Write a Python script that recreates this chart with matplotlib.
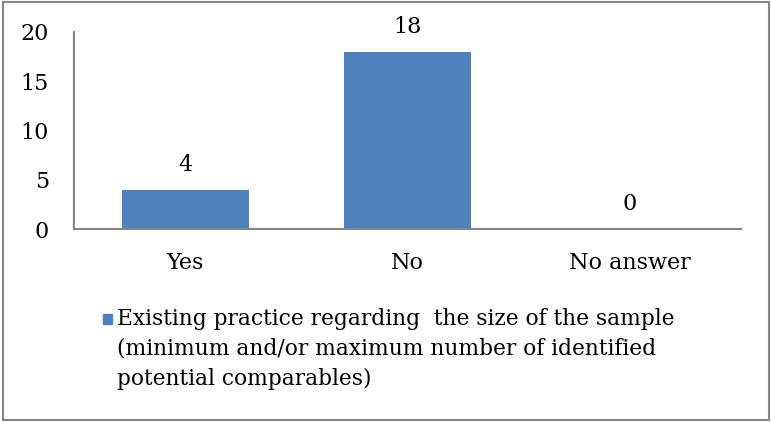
import matplotlib
matplotlib.use("Agg")
import matplotlib.pyplot as plt
from matplotlib.patches import Rectangle

categories = ["Yes", "No", "No answer"]
values = [4, 18, 0]
yticks = [0, 5, 10, 15, 20]
series_label = ("Existing practice regarding  the size of the sample\n"
                "(minimum and/or maximum number of identified\n"
                "potential comparables)")

BAR = "#4F81BD"
AXIS = "#868686"
FS = 16
plt.rcParams["font.family"] = ["DejaVu Serif"]

W, H = 771, 422
fig = plt.figure(figsize=(W / 100, H / 100), dpi=100)
ax = fig.add_axes([74 / W, 1 - 229 / H, (741 - 74) / W, (229 - 32) / H])

x = range(len(categories))
bars = ax.bar(x, values, width=0.57, color=BAR, zorder=2)
ax.set_xlim(-0.5, len(categories) - 0.5)
ax.set_ylim(0, 20)
ax.set_yticks(yticks)
ax.set_xticks(list(x))
ax.set_xticklabels(categories)
ax.tick_params(axis="both", length=0, labelsize=FS, colors="black")
ax.tick_params(axis="y", pad=18)
ax.tick_params(axis="x", pad=16.5)

for s in ["top", "right"]:
    ax.spines[s].set_visible(False)
for s in ["left", "bottom"]:
    ax.spines[s].set_color(AXIS)
    ax.spines[s].set_linewidth(1.5)

for b, v in zip(bars, values):
    ax.annotate(str(v), (b.get_x() + b.get_width() / 2, v),
                xytext=(0, 10), textcoords="offset points",
                ha="center", va="bottom", fontsize=FS)

# series key below the plot
fig.patches.append(Rectangle((103 / W, 1 - 324 / H), 9 / W, 10 / H,
                             transform=fig.transFigure, color=BAR))
fig.text(117 / W, 1 - 308 / H, series_label, ha="left", va="top",
         fontsize=15.7, linespacing=1.47)

# outer frame
fig.patches.append(Rectangle((3 / W, 2 / H), (W - 5) / W, (H - 4) / H,
                             transform=fig.transFigure, fill=False,
                             edgecolor=AXIS, linewidth=1.5))

fig.savefig("out.png", dpi=100)
